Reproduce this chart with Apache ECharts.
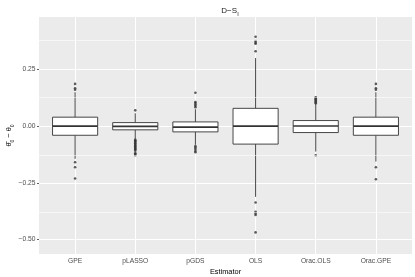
<!DOCTYPE html>
<html><head><meta charset="utf-8">
<script src="https://cdn.jsdelivr.net/npm/echarts@6/dist/echarts.min.js"></script>
<style>html,body{margin:0;padding:0;background:#fff}#c{width:415px;height:277px}</style>
</head><body><div id="c"></div>
<script>
const categories = ['GPE', 'pLASSO', 'pGDS', 'OLS', 'Orac.OLS', 'Orac.GPE'];
// [lower whisker, Q1, median, Q3, upper whisker]
const boxStats = [
  [-0.144, -0.040, 0.000, 0.040, 0.150],
  [-0.057, -0.016, -0.001, 0.016, 0.057],
  [-0.082, -0.025, -0.004, 0.019, 0.075],
  [-0.312, -0.079, 0.000, 0.079, 0.301],
  [-0.112, -0.028, 0.001, 0.025, 0.098],
  [-0.156, -0.040, 0.000, 0.040, 0.150]
];
const outliers = [
  [0.187, 0.168, 0.161, -0.159, -0.181, -0.231],
  [0.070, -0.060, -0.063, -0.067, -0.070, -0.075, -0.079, -0.083, -0.088, -0.091, -0.096, -0.099, -0.103, -0.108, -0.119, -0.123, -0.128],
  [0.148, 0.107, 0.102, 0.096, 0.090, 0.084, -0.088, -0.094, -0.101, -0.109, -0.115],
  [0.395, 0.376, 0.369, 0.364, 0.331, -0.337, -0.378, -0.385, -0.392, -0.469],
  [0.128, 0.124, 0.119, 0.114, 0.110, 0.105, 0.101, -0.128],
  [0.187, 0.168, 0.161, -0.181, -0.234]
];
const yTicks = [-0.5, -0.25, 0, 0.25];
const yMinor = [-0.375, -0.125, 0.125, 0.375];
const xTicks = categories.map((c, i) => i + 1);

const FONT = 'Liberation Sans';
const boxData = boxStats.map((s, i) => [i + 1].concat(s));
const outData = [];
outliers.forEach((arr, i) => arr.forEach(v => outData.push([i + 1, v])));

const chart = echarts.init(document.getElementById('c'), null, {renderer: 'canvas'});
chart.setOption({
  animation: false,
  backgroundColor: '#ffffff',
  title: {
    text: '{a|D−S}{b|I}',
    left: 225, top: 2, textAlign: 'center',
    textStyle: {
      fontWeight: 'normal',
      rich: {
        a: {fontFamily: FONT, fontSize: 8, fontWeight: 'normal', color: '#1a1a1a', verticalAlign: 'top', lineHeight: 10},
        b: {fontFamily: FONT, fontSize: 5.5, fontWeight: 'normal', color: '#1a1a1a', verticalAlign: 'bottom', lineHeight: 5.5}
      }
    }
  },
  grid: {left: 39, right: 3, top: 17, bottom: 23, show: true, backgroundColor: '#EBEBEB', borderWidth: 0, containLabel: false, outerBoundsMode: 'none'},
  xAxis: {
    type: 'value', min: 0.4, max: 6.6,
    name: 'Estimator', nameLocation: 'middle', nameGap: 14, nameMoveOverlap: false,
    nameTextStyle: {fontFamily: FONT, fontSize: 7.4, color: '#000'},
    axisLine: {show: false},
    axisTick: {show: true, customValues: xTicks, length: 2, lineStyle: {color: '#333', width: 0.8}},
    axisLabel: {customValues: xTicks, formatter: v => categories[Math.round(v) - 1] || '', fontFamily: FONT, fontSize: 6.7, color: '#4D4D4D', margin: 3.5},
    splitLine: {show: true, lineStyle: {color: '#ffffff', width: 1.1}}
  },
  yAxis: {
    type: 'value', min: -0.5644, max: 0.4824,
    name: '{t|θ̂}{s|0}{t| − θ}{s|0}', nameLocation: 'middle', nameGap: 24, nameRotate: 90, nameMoveOverlap: false,
    nameTextStyle: {
      rich: {
        t: {fontFamily: FONT, fontSize: 7.4, color: '#000', verticalAlign: 'top', lineHeight: 10},
        s: {fontFamily: FONT, fontSize: 5, color: '#000', verticalAlign: 'bottom', lineHeight: 5}
      }
    },
    axisLine: {show: false},
    axisTick: {show: true, customValues: yTicks, length: 2, lineStyle: {color: '#333', width: 0.8}},
    axisLabel: {customValues: yTicks, formatter: v => (v < 0 ? '−' : '') + Math.abs(v).toFixed(2), fontFamily: FONT, fontSize: 6.7, color: '#4D4D4D', margin: 3.5},
    splitLine: {show: true, lineStyle: {color: '#ffffff', width: 1.1}}
  },
  series: [
    {
      type: 'scatter', data: [], silent: true,
      markLine: {
        silent: true, symbol: 'none', label: {show: false},
        lineStyle: {color: '#ffffff', width: 0.55, type: 'solid'},
        data: yMinor.map(v => ({yAxis: v}))
      }
    },
    {
      type: 'custom', data: boxData, silent: true, z: 3,
      encode: {x: 0, y: [1, 2, 3, 4, 5]},
      renderItem: function (params, api) {
        const x = api.value(0);
        const lo = api.coord([x, api.value(1)]);
        const q1 = api.coord([x, api.value(2)]);
        const md = api.coord([x, api.value(3)]);
        const q3 = api.coord([x, api.value(4)]);
        const hi = api.coord([x, api.value(5)]);
        const w = api.size([0.75, 0])[0];
        const cx = lo[0];
        const st = {stroke: '#333333', lineWidth: 0.9};
        return {type: 'group', children: [
          {type: 'line', shape: {x1: cx, y1: hi[1], x2: cx, y2: q3[1]}, style: st},
          {type: 'line', shape: {x1: cx, y1: q1[1], x2: cx, y2: lo[1]}, style: st},
          {type: 'rect', shape: {x: cx - w / 2, y: q3[1], width: w, height: q1[1] - q3[1]}, style: {fill: '#ffffff', stroke: '#333333', lineWidth: 0.9}},
          {type: 'line', shape: {x1: cx - w / 2, y1: md[1], x2: cx + w / 2, y2: md[1]}, style: {stroke: '#333333', lineWidth: 1.7}}
        ]};
      }
    },
    {
      type: 'scatter', data: outData, z: 4, silent: true,
      symbol: 'circle', symbolSize: 2.6,
      itemStyle: {color: '#333333'}
    }
  ]
});
</script></body></html>
